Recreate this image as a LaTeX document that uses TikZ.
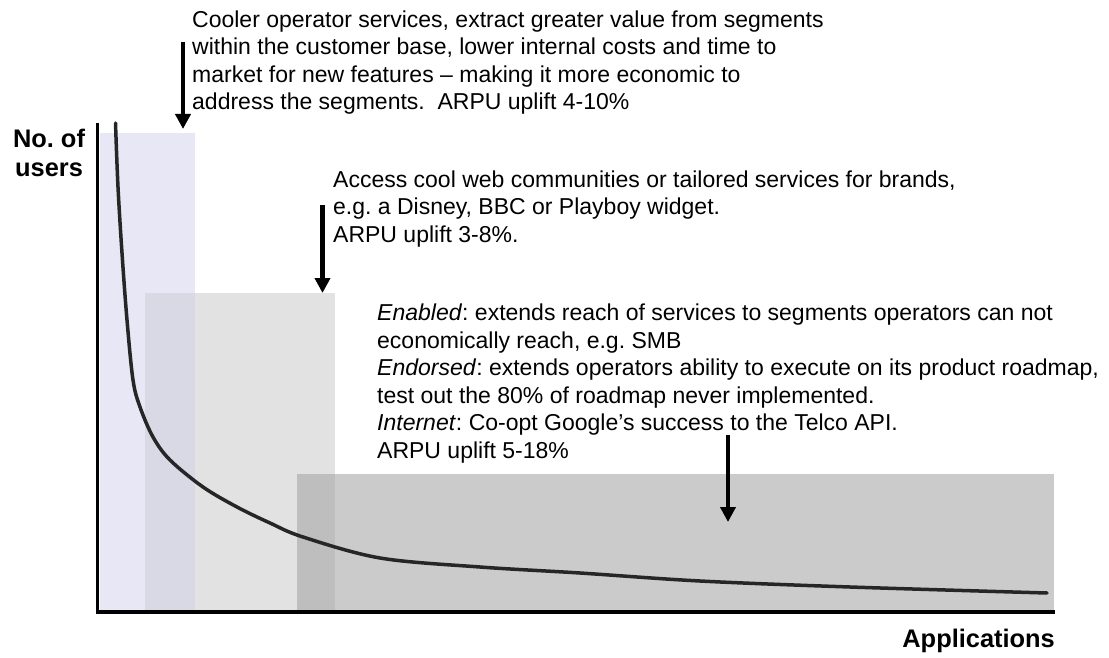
\documentclass[tikz,border=0pt]{standalone}
\usepackage{fontspec}
\setmainfont{Liberation Sans}
\usetikzlibrary{arrows.meta}
\definecolor{rone}{rgb}{0.905,0.905,0.96}
\definecolor{rtwo}{rgb}{0.885,0.885,0.885}
\definecolor{rthree}{rgb}{0.795,0.795,0.795}
\definecolor{ronetwo}{rgb}{0.85,0.85,0.90}
\definecolor{rtwothree}{rgb}{0.745,0.745,0.745}
\frenchspacing
\begin{document}
\begin{tikzpicture}[x=1pt,y=-1pt,
  txt/.style={anchor=base west, inner sep=0pt, align=left, font=\fontsize{23}{27.5}\selectfont},
  lbl/.style={inner sep=0pt, font=\fontsize{25.4}{29}\selectfont\bfseries},
  ptr/.style={line width=4.5pt, -{Triangle[width=15pt,length=15pt]}},
  axisline/.style={line width=3.5pt},
  curveline/.style={line width=3.5pt, black!85, line cap=round},
]
\useasboundingbox (0,0) rectangle (1109,658);
% shaded segments
\fill[rone] (100,133) rectangle (195,611);
\fill[rtwo] (145,293) rectangle (335,611);
\fill[rthree] (297,474) rectangle (1054,611);
\fill[ronetwo] (145,293) rectangle (195,611);
\fill[rtwothree] (297,474) rectangle (335,611);
% axes
\coordinate (ytop) at (97.5,123);
\coordinate (orig) at (97.5,612);
\coordinate (xend) at (1055,612);
\draw[axisline] (ytop) -- (orig) -- (xend);
% long tail curve
\draw[curveline] plot[smooth, tension=0.55] coordinates {(115.5,123) (118,187) (122,253) (127,320) (133,380) (140,407) (153,437) (170,460) (203,487) (237,507) (270,523) (303,537) (380,558) (480,567) (580,573) (700,581) (850,587) (1047,593)};
% labels
\node[lbl, anchor=base, align=center] (ylab) at (49,177) {No. of\\users};
\node[lbl, anchor=base east] (xlab) at (1055,647) {Applications};
% texts
\node[txt] (t1) at (192,110) {Cooler operator services, extract greater value from segments\\within the customer base, lower internal costs and time to\\market for new features -- making it more economic to\\address the segments.\ \ ARPU uplift 4-10\%};
\node[txt] (t2) at (333,242) {Access cool web communities or tailored services for brands,\\e.g. a Disney, BBC or Playboy widget.\\ARPU uplift 3-8\%.};
\node[txt] (t3) at (377,458) {\textit{Enabled}: extends reach of services to segments operators can not\\economically reach, e.g. SMB\\\textit{Endorsed}: extends operators ability to execute on its product roadmap,\\test out the 80\% of roadmap never implemented.\\\textit{Internet}: Co-opt Google’s success to the Telco API.\\ARPU uplift 5-18\%};
% arrows
\coordinate (a1s) at (183,42);
\coordinate (a1e) at (183,129);
\coordinate (a2s) at (322.5,205);
\coordinate (a2e) at (322.5,293);
\coordinate (a3s) at (728,435);
\coordinate (a3e) at (728,522);
\draw[ptr] (a1s) -- (a1e);
\draw[ptr] (a2s) -- (a2e);
\draw[ptr] (a3s) -- (a3e);
\end{tikzpicture}
\end{document}
